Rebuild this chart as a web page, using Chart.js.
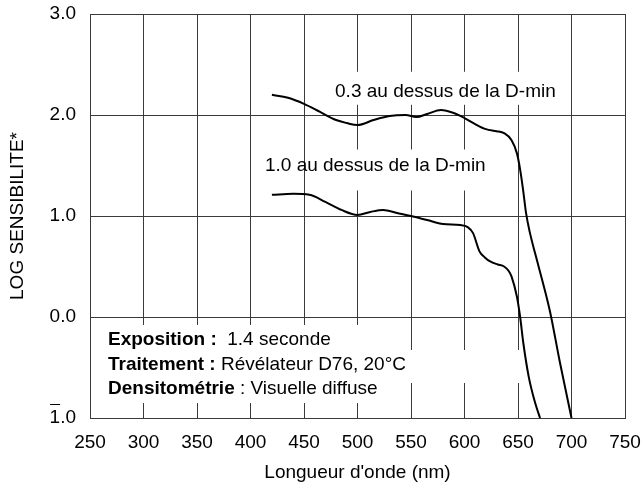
<!DOCTYPE html>
<html><head><meta charset="utf-8">
<script src="https://cdn.jsdelivr.net/npm/chart.js@4/dist/chart.umd.min.js"></script>
<style>html,body{margin:0;padding:0;background:#fff}#wrap{width:643px;height:489px}</style>
</head><body><div id="wrap"><canvas id="c" width="643" height="489"></canvas></div>
<script>
// ---- data ----
const xTickValues = [250, 300, 350, 400, 450, 500, 550, 600, 650, 700, 750];
const yTickValues = [-1, 0, 1, 2, 3];
const yTickLabels = ['1.0', '0.0', '1.0', '2.0', '3.0']; // -1 shown as "1.0" with overline bar
const seriesNames = ['0.3 au dessus de la D-min', '1.0 au dessus de la D-min'];

const wlHigh   = [420, 435, 450, 465, 480, 490, 500, 515, 530, 545, 555, 565, 578, 590, 600, 610, 620, 630, 637, 644, 649, 652, 655, 657.5, 661, 666, 674, 680, 689, 700];
const sensHigh = [2.20, 2.17, 2.11, 2.03, 1.95, 1.92, 1.90, 1.95, 1.99, 2.00, 1.98, 2.01, 2.05, 2.02, 1.97, 1.91, 1.86, 1.84, 1.82, 1.75, 1.62, 1.46, 1.24, 1.03, 0.84, 0.63, 0.31, 0.05, -0.44, -1.0];

const wlLow   = [420, 440, 455, 470, 485, 500, 512, 524, 537, 550, 565, 580, 596, 603, 608, 614, 619, 624, 631, 637, 641, 644, 649, 652, 655, 660, 666, 670.6];
const sensLow = [1.21, 1.22, 1.21, 1.14, 1.06, 1.01, 1.04, 1.06, 1.03, 1.00, 0.96, 0.92, 0.91, 0.89, 0.83, 0.65, 0.59, 0.55, 0.52, 0.50, 0.46, 0.40, 0.20, 0.0, -0.26, -0.59, -0.85, -1.0];

const infoLines = [
  ['Exposition : ', ' 1.4 seconde'],
  ['Traitement : ', 'Révélateur D76, 20°C'],
  ['Densitométrie', ' : Visuelle diffuse']
];
const xTitle = "Longueur d'onde (nm)";
const yTitle = 'LOG SENSIBILITE*';

// ---- chart ----
const FAMILY = '"Liberation Sans", Arial, Helvetica, sans-serif';
const FS = 19;
const GRID = '#3a3a3a';

function toPoints(xs, ys) { return xs.map((x, i) => ({x: x, y: ys[i]})); }
function zeroPad(s) { s.paddingTop = 0; s.paddingBottom = 0; s.paddingLeft = 0; s.paddingRight = 0; }

const annot = {
  id: 'annot',
  beforeDatasetsDraw(chart) {
    const ctx = chart.ctx;
    const xs = chart.scales.x, ys = chart.scales.y;
    ctx.save();
    ctx.font = FS + 'px ' + FAMILY;
    ctx.textBaseline = 'middle';
    ctx.textAlign = 'left';
    // label 1 (0.3)
    const l1x = xs.getPixelForValue(479), l1y = ys.getPixelForValue(2.23);
    const w1 = ctx.measureText(seriesNames[0]).width;
    ctx.fillStyle = '#fff';
    ctx.fillRect(l1x - 5, l1y - 20, w1 + 10, 33);
    // label 2 (1.0)
    const l2x = xs.getPixelForValue(413.5), l2y = ys.getPixelForValue(1.5);
    const w2 = ctx.measureText(seriesNames[1]).width;
    ctx.fillRect(l2x + 45, l2y - 16, w2 - 37, 41);
    ctx.fillStyle = '#000';
    ctx.fillText(seriesNames[0], l1x, l1y);
    ctx.fillText(seriesNames[1], l2x, l2y);

    // info block
    const ca = chart.chartArea;
    const ix = ca.left + 18;
    const iy = [340, 365, 389];
    ctx.fillStyle = '#fff';
    ctx.fillRect(ca.left + 10, iy[0] - 15, 275, 78);
    ctx.fillRect(ca.left + 280, iy[1] - 15, 160, 33);
    ctx.fillStyle = '#000';
    infoLines.forEach((ln, i) => {
      ctx.font = 'bold ' + FS + 'px ' + FAMILY;
      ctx.fillText(ln[0], ix, iy[i]);
      const bw = ctx.measureText(ln[0]).width;
      ctx.font = FS + 'px ' + FAMILY;
      ctx.fillText(ln[1], ix + bw, iy[i]);
    });
    ctx.restore();
  },
  afterDraw(chart) {
    // overline on the -1 tick label ("1" with bar)
    const ctx = chart.ctx;
    const ys = chart.scales.y;
    const y = ys.getPixelForValue(-1);
    ctx.save();
    ctx.font = FS + 'px ' + FAMILY;
    const full = ctx.measureText(yTickLabels[0]).width;
    const one = ctx.measureText('1').width;
    const right = ys.right - 14;
    const left = right - full;
    ctx.strokeStyle = '#000';
    ctx.lineWidth = 1;
    ctx.beginPath();
    ctx.moveTo(left + 0.5, Math.round(y - 14) + 0.5);
    ctx.lineTo(left + one, Math.round(y - 14) + 0.5);
    ctx.stroke();
    ctx.restore();
  }
};

new Chart(document.getElementById('c'), {
  type: 'line',
  data: {
    datasets: [
      {label: seriesNames[0], data: toPoints(wlHigh, sensHigh), borderColor: '#000', borderWidth: 2, pointRadius: 0, fill: false, cubicInterpolationMode: 'monotone'},
      {label: seriesNames[1], data: toPoints(wlLow, sensLow), borderColor: '#000', borderWidth: 2, pointRadius: 0, fill: false, cubicInterpolationMode: 'monotone'}
    ]
  },
  options: {
    responsive: false,
    animation: false,
    devicePixelRatio: 1,
    layout: {padding: {left: 0, right: 18, top: 14, bottom: 0}},
    plugins: {legend: {display: false}, tooltip: {enabled: false}},
    scales: {
      x: {
        type: 'linear', min: 250, max: 750,
        afterBuildTicks(s) { s.ticks = xTickValues.map(v => ({value: v})); },
        afterFit(s) { s.height = 71; zeroPad(s); },
        ticks: {color: '#000', font: {family: FAMILY, size: FS}, padding: 13, maxRotation: 0, autoSkip: false},
        grid: {color: GRID, lineWidth: 1, drawTicks: false},
        border: {display: true, color: GRID, width: 1},
        title: {display: true, text: xTitle, color: '#000', font: {family: FAMILY, size: FS}, padding: {top: 0, bottom: 5}}
      },
      y: {
        type: 'linear', min: -1, max: 3,
        afterBuildTicks(s) { s.ticks = yTickValues.map(v => ({value: v})); },
        afterFit(s) { s.width = 90; zeroPad(s); },
        ticks: {color: '#000', font: {family: FAMILY, size: FS}, padding: 14,
          callback(v) { const i = yTickValues.indexOf(v); return i >= 0 ? yTickLabels[i] : ''; }},
        grid: {color: GRID, lineWidth: 1, drawTicks: false},
        border: {display: true, color: GRID, width: 1},
        title: {display: true, text: yTitle, color: '#000', font: {family: FAMILY, size: FS}, padding: {top: 6, bottom: 0}}
      }
    }
  },
  plugins: [annot]
});
</script>
</body></html>
